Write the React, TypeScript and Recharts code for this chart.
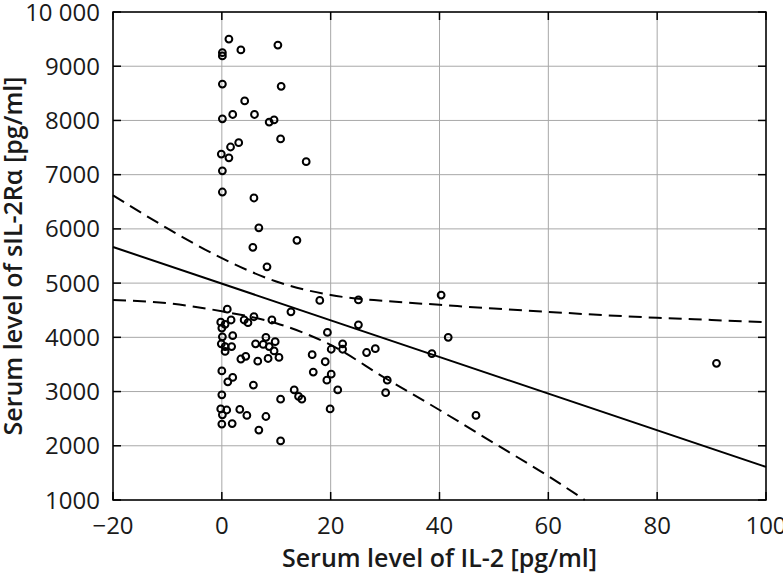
import React from 'react';
import { ComposedChart, Scatter, Line, XAxis, YAxis, CartesianGrid, ReferenceArea } from 'recharts';

// Serum IL-2 [pg/ml]
const il2 = [
  1.3, 3.5, 0.1, 0.1, 10.3, 0.1, 10.9, 4.2, 2.0, 6.0,
  0.1, 8.7, 9.6, 10.8, 3.1, 1.6, -0.1, 1.3, 15.5, 0.1,
  0.1, 5.9, 6.8, 13.8, 5.7, 8.3, 1.0, 12.7, -0.2, 0.6,
  0.0, 1.7, 0.1, 2.0, -0.1, 0.6, 1.8, 0.6, 4.1, 4.8,
  5.9, 9.2, 8.1, 6.2, 7.6, 8.7, 9.8, 9.6, 8.5, 10.5,
  3.5, 4.4, 6.6, 0.0, 2.0, 1.1, 5.8, 0.0, 13.3, 14.1,
  14.7, 10.8, -0.2, 0.9, 0.1, 3.3, 4.6, 8.1, 0.0, 1.9,
  6.8, 10.8, 18.0, 25.1, 25.1, 19.4, 22.2, 22.2, 20.1, 16.6,
  19.0, 16.8, 20.1, 19.3, 26.6, 28.2, 21.3, 30.4, 30.1, 19.9,
  38.6, 40.3, 41.6, 46.7, 90.9,
];

// Serum sIL-2Rα [pg/ml]
const sil2ra = [
  9500, 9300, 9250, 9190, 9390, 8670, 8630, 8360, 8110, 8110,
  8030, 7970, 8010, 7660, 7590, 7510, 7380, 7310, 7240, 7070,
  6680, 6570, 6020, 5790, 5660, 5300, 4520, 4470, 4280, 4240,
  4170, 4320, 4010, 4030, 3880, 3830, 3830, 3740, 4320, 4270,
  4380, 4320, 4000, 3880, 3870, 3830, 3920, 3750, 3610, 3630,
  3600, 3650, 3560, 3380, 3260, 3180, 3120, 2940, 3030, 2910,
  2860, 2860, 2680, 2660, 2570, 2670, 2560, 2540, 2400, 2410,
  2290, 2090, 4680, 4690, 4230, 4090, 3880, 3780, 3780, 3680,
  3550, 3360, 3320, 3210, 3720, 3790, 3030, 3210, 2980, 2680,
  3700, 4780, 4000, 2560, 3520,
];

// Regression line
const fitX = [-20, 100];
const fitY = [5666, 1610];

// Confidence band (upper)
const upperX = [-20, -10, 0, 10, 20, 30, 40, 50, 60, 70, 80, 90, 100];
const upperY = [6620, 6010, 5460, 5030, 4780, 4670, 4600, 4530, 4470, 4410, 4360, 4320, 4280];

// Confidence band (lower)
const lowerX = [-20, -10, 0, 10, 20, 30, 40, 50, 60, 66.7];
const lowerY = [4690, 4630, 4480, 4260, 3860, 3250, 2660, 2050, 1440, 1000];

const xTicks = [-20, 0, 20, 40, 60, 80, 100];
const yTicks = [1000, 2000, 3000, 4000, 5000, 6000, 7000, 8000, 9000, 10000];

const xTitle = 'Serum level of IL-2 [pg/ml]';
const yTitle = 'Serum level of sIL-2R\u03b1 [pg/ml]';

const points = il2.map((x, i) => ({ x, y: sil2ra[i] }));
const fit = fitX.map((x, i) => ({ x, y: fitY[i] }));
const upper = upperX.map((x, i) => ({ x, y: upperY[i] }));
const lower = lowerX.map((x, i) => ({ x, y: lowerY[i] }));

const PLOT_W = 653;
const PLOT_H = 488;
const FONT = '"Open Sans", "Noto Sans", sans-serif';

const fmtX = (v: number) => (v < 0 ? '\u2212' + Math.abs(v) : String(v));
const fmtY = (v: number) => (v === 10000 ? '10 000' : String(v));

const XTick = (props: any) => {
  const { x, y, payload } = props;
  return (
    <g>
      <line x1={x} y1={y} x2={x} y2={y - 8} stroke="#000" strokeWidth={1.5} />
      <line x1={x} y1={y - PLOT_H} x2={x} y2={y - PLOT_H + 8} stroke="#000" strokeWidth={1.5} />
      <text x={x} y={y + 34} textAnchor="middle" fontFamily={FONT} fontSize={24} fill="#1a1a1a">
        {fmtX(payload.value)}
      </text>
    </g>
  );
};

const YTick = (props: any) => {
  const { x, y, payload } = props;
  return (
    <g>
      <line x1={x} y1={y} x2={x + 8} y2={y} stroke="#000" strokeWidth={1.5} />
      <line x1={x + PLOT_W} y1={y} x2={x + PLOT_W - 8} y2={y} stroke="#000" strokeWidth={1.5} />
      <text x={x - 13} y={y + 8.5} textAnchor="end" fontFamily={FONT} fontSize={24} fill="#1a1a1a">
        {fmtY(payload.value)}
      </text>
    </g>
  );
};

const Ring = (props: any) => {
  const { cx, cy } = props;
  if (cx == null || cy == null) return null;
  return <circle cx={cx} cy={cy} r={3.4} fill="none" stroke="#000" strokeWidth={2} />;
};

export default function App() {
  return (
    <div style={{ position: 'absolute', left: 0, top: 0, width: 783, height: 573, background: '#fff' }}>
      <ComposedChart width={783} height={573} margin={{ top: 12, right: 17, bottom: 0, left: 0 }}>
        <CartesianGrid stroke="#a8a8a8" strokeWidth={1} />
        <XAxis
          dataKey="x"
          type="number"
          domain={[-20, 100]}
          ticks={xTicks}
          interval={0}
          height={73}
          tickSize={0}
          tickMargin={0}
          axisLine={false}
          tickLine={false}
          tick={<XTick />}
          label={{ value: xTitle, position: 'insideBottom', offset: 6, fontSize: 25, fontWeight: 600, fill: '#1a1a1a', fontFamily: FONT }}
        />
        <YAxis
          dataKey="y"
          type="number"
          domain={[1000, 10000]}
          ticks={yTicks}
          interval={0}
          width={113}
          tickSize={0}
          tickMargin={0}
          axisLine={false}
          tickLine={false}
          tick={<YTick />}
          label={{ value: yTitle, angle: -90, position: 'insideLeft', offset: 13, fontSize: 25, fontWeight: 600, fill: '#1a1a1a', fontFamily: FONT, style: { textAnchor: 'middle' } }}
        />
        <ReferenceArea x1={-20} x2={100} y1={1000} y2={10000} fill="none" fillOpacity={0} stroke="#000" strokeWidth={1.5} ifOverflow="visible" />
        <Line data={upper} dataKey="y" type="monotone" dot={false} stroke="#000" strokeWidth={2} strokeDasharray="13 7" isAnimationActive={false} />
        <Line data={lower} dataKey="y" type="monotone" dot={false} stroke="#000" strokeWidth={2} strokeDasharray="13 7" isAnimationActive={false} />
        <Line data={fit} dataKey="y" type="linear" dot={false} stroke="#000" strokeWidth={2} isAnimationActive={false} />
        <Scatter data={points} dataKey="y" shape={<Ring />} isAnimationActive={false} />
      </ComposedChart>
    </div>
  );
}
